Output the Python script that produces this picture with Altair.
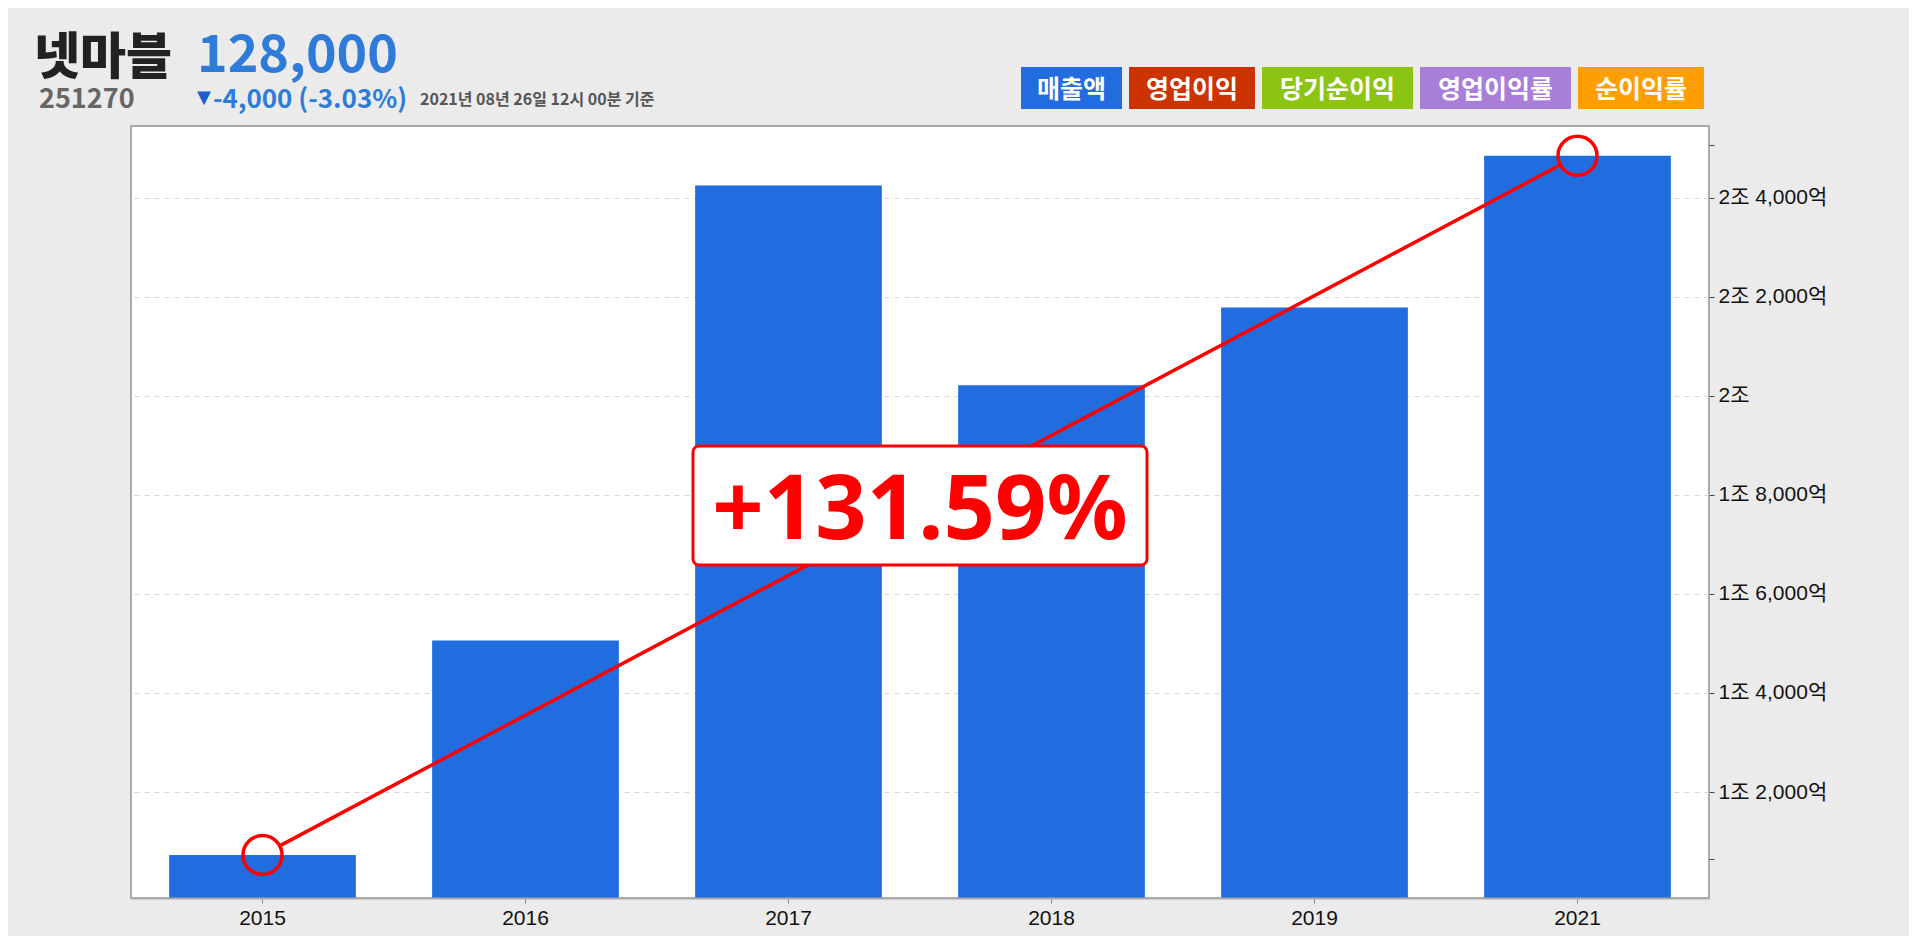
import math
import altair as alt
import pandas as pd

# ---------------- data ----------------
years = ["2015", "2016", "2017", "2018", "2019", "2021"]
revenue = [10729, 15061, 24248, 20213, 21787, 24848]  # 억원
y_tick_values = [10640, 12000, 14000, 16000, 18000, 20000, 22000, 24000, 25060]
legend_names = ["매출액", "영업이익", "당기순이익", "영업이익률", "순이익률"]
legend_colors = ["#216ddf", "#cc3300", "#8cc414", "#a97ed9", "#ff9e00"]
stock_name = "넷마블"
stock_code = "251270"
stock_price = "128,000"
stock_change = "-4,000 (-3.03%)"
stock_time = "2021년 08년 26일 12시 00분 기준"
growth_label = "+131.59%"

# ---------------- layout ----------------
W, H = 1578, 772
Y_MIN, Y_MAX = 9860, 25450
RED = "#ff0000"
BAR = "#216ddf"
BLUE_TXT = "#2f7bd9"
KR = "Noto Sans CJK KR"
LAT = "Liberation Sans, Noto Sans CJK KR, sans-serif"

df = pd.DataFrame({"year": years, "value": revenue})
ends = df.iloc[[0, len(df) - 1]].reset_index(drop=True)

x_enc = alt.X(
    "year:N",
    sort=years,
    scale=alt.Scale(paddingInner=0.29, paddingOuter=0.145),
    axis=alt.Axis(
        title=None, labelAngle=0, labelFont=LAT, labelFontSize=21,
        labelColor="#111111", labelPadding=4, tickColor="#888888", tickSize=5,
        domain=True, domainColor="#aaaaaa", domainWidth=2, grid=False, zindex=1,
    ),
)

label_expr = (
    "datum.value < 11000 || datum.value > 25000 ? '' : "
    "(floor(datum.value / 10000) + '조' + "
    "(datum.value % 10000 > 0 ? ' ' + format(datum.value % 10000, ',') + '억' : ''))"
)

y_scale = alt.Scale(domain=[Y_MIN, Y_MAX], nice=False, zero=False)
y_axis = alt.Axis(
    orient="right", title=None, values=y_tick_values, labelExpr=label_expr,
    grid=True, gridColor="#d6d6d6", gridDash=[5, 5], gridWidth=1,
    gridOpacity={"condition": {"test": "datum.value < 11000 || datum.value > 25000", "value": 0}, "value": 1},
    domain=False, tickColor="#444444", tickSize=5, labelFont=LAT,
    labelFontSize=21, labelColor="#111111", labelPadding=4,
)

bars = alt.Chart(df).mark_bar(color=BAR).encode(
    x=x_enc,
    y=alt.Y("value:Q", scale=y_scale, axis=y_axis),
    y2=alt.datum(Y_MIN),
)

# dash so the line stops at the circles' edges
step = W / len(years)
px0, px1 = step / 2, W - step / 2
py0 = (Y_MAX - revenue[0]) / (Y_MAX - Y_MIN) * H
py1 = (Y_MAX - revenue[-1]) / (Y_MAX - Y_MIN) * H
L = math.hypot(px1 - px0, py1 - py0)
R = 21

line = alt.Chart(ends).mark_line(
    color=RED, strokeWidth=3.5, strokeDash=[0, R, L - 2 * R, R + 20]
).encode(x=alt.X("year:N", sort=years), y=alt.Y("value:Q"))

points = alt.Chart(ends).mark_point(
    shape="circle", filled=False, size=1521, strokeWidth=3.5, color=RED, opacity=1
).encode(x=alt.X("year:N", sort=years), y=alt.Y("value:Q"))


def txt(text, x, y, size, color, font, weight="bold", align="left"):
    return alt.Chart(pd.DataFrame({"t": [text]})).mark_text(
        align=align, baseline="middle", fontSize=size, font=font,
        fontWeight=weight, color=color,
    ).encode(x=alt.value(x), y=alt.value(y), text="t:N")


box = alt.Chart(pd.DataFrame({"t": [growth_label]})).mark_rect(
    fill="white", stroke=RED, strokeWidth=3, cornerRadius=6
).encode(x=alt.value(562), x2=alt.value(1016), y=alt.value(320), y2=alt.value(439))
box_text = txt(growth_label, 789, 385.5, 90, RED, "Noto Sans", align="center")

header = [
    txt(stock_name, -97, -67, 50, "#222222", KR, weight=900),
    txt(stock_code, -92, -26, 27, "#666666", KR),
    txt(stock_price, 66, -70, 52, BLUE_TXT, KR),
    txt("▼", 66, -28, 18, "#1a5fd0", "DejaVu Sans", weight="normal"),
    txt(stock_change, 82, -26.5, 26, BLUE_TXT, KR),
    txt(stock_time, 289, -25.6, 16, "#555555", KR),
]

legend_layers = []
lx = 890
for name, col in zip(legend_names, legend_colors):
    w = 25 * len(name) + 26
    legend_layers.append(
        alt.Chart(pd.DataFrame({"t": [name]})).mark_rect(fill=col).encode(
            x=alt.value(lx), x2=alt.value(lx + w), y=alt.value(-59), y2=alt.value(-17)
        )
    )
    legend_layers.append(txt(name, lx + w / 2, -36, 25, "white", KR, align="center"))
    lx += w + 7

chart = alt.layer(
    bars, line, points, box, box_text, *header, *legend_layers
).properties(
    width=W, height=H,
    padding={"left": 123, "top": 118, "right": 200, "bottom": 38},
    autosize=alt.AutoSizeParams(type="none"),
    background="#ebebeb",
).configure_view(fill="white", stroke="#aaaaaa", strokeWidth=2)

chart.save("out.html", embed_options={"renderer": "svg", "actions": False})
